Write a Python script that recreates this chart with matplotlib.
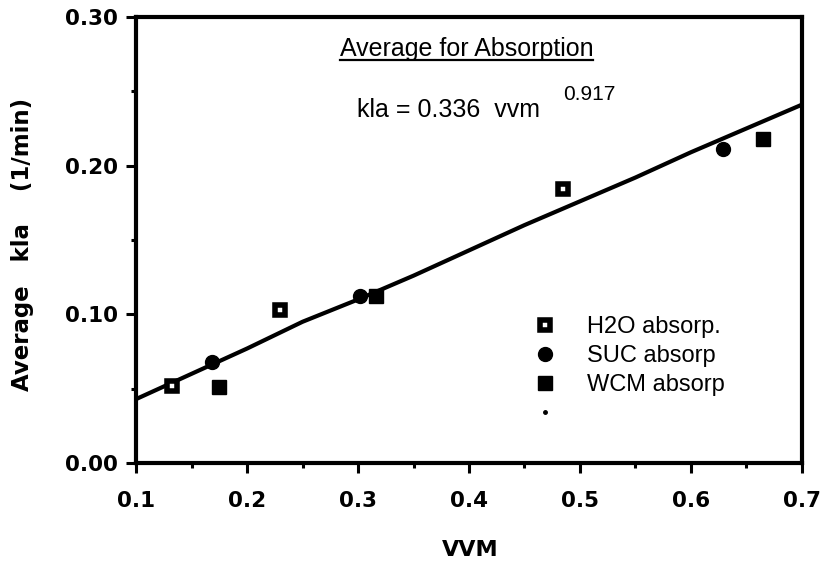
import matplotlib
matplotlib.use('Agg')
import numpy as np
from matplotlib import pyplot as plt
from matplotlib.lines import Line2D
from matplotlib.ticker import MultipleLocator, FormatStrFormatter

plt.rcParams['font.family'] = ['Liberation Sans', 'DejaVu Sans']

# Data
h2o_vvm = [0.132, 0.230, 0.485]
h2o_kla = [0.052, 0.103, 0.184]
suc_vvm = [0.168, 0.302, 0.629]
suc_kla = [0.068, 0.112, 0.211]
wcm_vvm = [0.175, 0.316, 0.665]
wcm_kla = [0.051, 0.112, 0.218]

# Fitted curve (kla = 0.336 vvm^0.917)
fit_vvm = [0.10, 0.15, 0.20, 0.25, 0.30, 0.35, 0.40, 0.45, 0.50, 0.55, 0.60, 0.65, 0.70]
fit_kla = [0.043, 0.060, 0.077, 0.095, 0.110, 0.126, 0.143, 0.160, 0.176, 0.192, 0.209, 0.225, 0.241]

# Build figure
fig = plt.figure(figsize=(8.25, 5.65), dpi=100)
ax = fig.add_axes([0.165, 0.1805, 0.807, 0.7895])

# Marker styles
h2o_style = dict(linestyle='none', marker='s', markersize=7, markerfacecolor='white',
                 markeredgecolor='black', markeredgewidth=4)
suc_style = dict(linestyle='none', marker='o', markersize=10, color='black')
wcm_style = dict(linestyle='none', marker='s', markersize=10, color='black')

# Plot data
ax.plot(fit_vvm, fit_kla, color='black', linewidth=3, solid_capstyle='butt', zorder=2)
ax.plot(h2o_vvm, h2o_kla, zorder=3, **h2o_style)
ax.plot(suc_vvm, suc_kla, zorder=3, **suc_style)
ax.plot(wcm_vvm, wcm_kla, zorder=3, **wcm_style)

# Limits and ticks
ax.set_xlim(0.1, 0.7)
ax.set_ylim(0.0, 0.30)
ax.xaxis.set_major_locator(MultipleLocator(0.1))
ax.xaxis.set_minor_locator(MultipleLocator(0.05))
ax.yaxis.set_major_locator(MultipleLocator(0.1))
ax.yaxis.set_minor_locator(MultipleLocator(0.05))
ax.xaxis.set_major_formatter(FormatStrFormatter('%.1f'))
ax.yaxis.set_major_formatter(FormatStrFormatter('%.2f'))
ax.tick_params(which='major', length=7, width=2.2, direction='out')
ax.tick_params(which='minor', length=3.5, width=2.2, direction='out')
ax.tick_params(axis='x', which='major', pad=13)
ax.tick_params(axis='y', which='major', pad=6)
for lab in ax.get_xticklabels() + ax.get_yticklabels():
    lab.set_fontfamily('DejaVu Sans')
    lab.set_fontweight('bold')
    lab.set_fontsize(15.5)

for sp in ax.spines.values():
    sp.set_linewidth(3)

# Axis labels
ax.set_xlabel('VVM', fontsize=16, fontweight='bold', family='DejaVu Sans', va='top')
ax.set_ylabel('Average   kla    (1/min)', fontsize=16.5, fontweight='bold',
              family='DejaVu Sans', va='center')
ax.xaxis.set_label_coords(0.5015, -0.172)
ax.yaxis.set_label_coords(-0.171, 0.489)

# Annotations
title = ax.text(0.306, 0.913, 'Average for Absorption', transform=ax.transAxes,
                fontsize=18, ha='left', va='baseline')
ax.text(0.332, 0.776, 'kla = 0.336  vvm', transform=ax.transAxes,
        fontsize=18, ha='left', va='baseline')
ax.text(0.641, 0.814, '0.917', transform=ax.transAxes,
        fontsize=15, ha='left', va='baseline')

# Legend
handles = [
    Line2D([], [], **h2o_style),
    Line2D([], [], **suc_style),
    Line2D([], [], **wcm_style),
    Line2D([], [], linestyle='none', marker='o', markersize=2.5, color='black'),
]
labels = ['H2O absorp.', 'SUC absorp', 'WCM absorp', '']
ax.legend(handles, labels, loc='upper left', bbox_to_anchor=(0.596, 0.329),
          frameon=False, fontsize=17, handlelength=1.0, handletextpad=1.29,
          labelspacing=0.30, borderpad=0, borderaxespad=0)

# Underline the heading
fig.canvas.draw()
bb = title.get_window_extent().transformed(ax.transAxes.inverted())
ax.add_line(Line2D([bb.x0, bb.x1], [0.903, 0.903], transform=ax.transAxes,
                   color='black', linewidth=1.6))

fig.savefig('out.png', dpi=100)
